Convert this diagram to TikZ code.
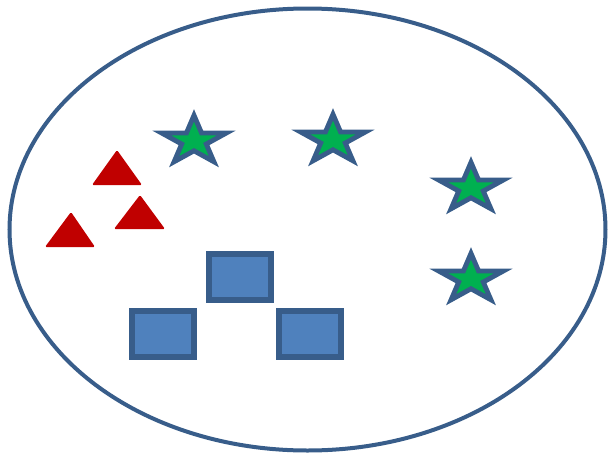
\documentclass[tikz,border=0pt]{standalone}
\usepackage{xcolor}
\usepackage{tikz}
\usetikzlibrary{shapes.geometric}
\definecolor{outlineBlue}{HTML}{385D8A}
\definecolor{boxBlue}{HTML}{4F81BD}
\definecolor{starGreen}{HTML}{00B050}
\definecolor{triRed}{HTML}{C00000}

\begin{document}
\begin{tikzpicture}[x=0.3mm, y=-0.3mm]
    \tikzset{starmark/.style={star,star points=5,star point ratio=2.62,minimum size=15.4mm,inner sep=0pt,draw=outlineBlue,fill=starGreen,line width=1.45mm,xscale=1.32}, boxmark/.style={rectangle,minimum width=18.6mm,minimum height=13.8mm,inner sep=0pt,draw=outlineBlue,fill=boxBlue,line width=1.8mm}, trimark/.style={fill=triRed,rounded corners=0.4mm}}
    \useasboundingbox (0,0) rectangle (610,459);
    \draw[outlineBlue,line width=1.2mm] (307.5,229.5) ellipse [x radius=298, y radius=221];
    % stars
    \node[starmark] (s1) at (194,141) {};
    \node[starmark] (s2) at (333,140) {};
    \node[starmark] (s3) at (471,188) {};
    \node[starmark] (s4) at (471,279) {};
    % triangles
    \fill[trimark] (117,150) -- (142,185) -- (92,185) -- cycle;
    \fill[trimark] (140,195) -- (165,229) -- (114,229) -- cycle;
    \fill[trimark] (71,212) -- (95,247) -- (45,247) -- cycle;
    % boxes
    \node[boxmark] (b1) at (240,277) {};
    \node[boxmark] (b2) at (163,333.5) {};
    \node[boxmark] (b3) at (310,333.5) {};
\end{tikzpicture}
\end{document}
